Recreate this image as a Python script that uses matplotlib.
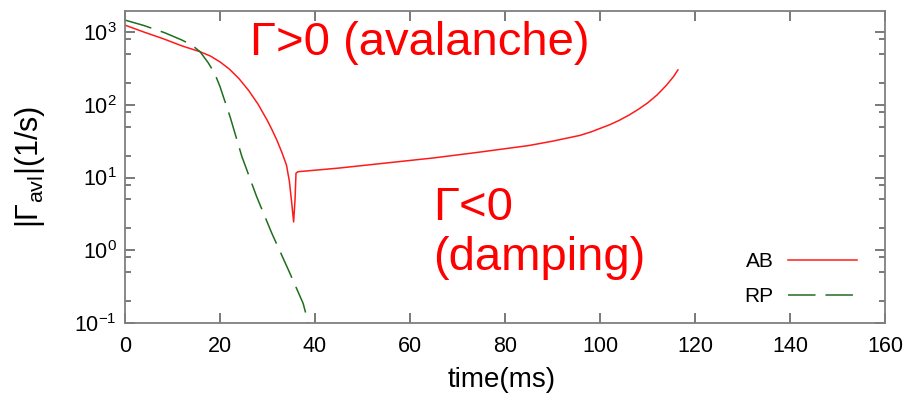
import numpy as np
import matplotlib.pyplot as plt
from matplotlib.ticker import LogLocator, NullFormatter

plt.rcParams['font.family'] = ['Liberation Sans', 'DejaVu Sans']
plt.rcParams['mathtext.fontset'] = 'custom'
plt.rcParams['mathtext.rm'] = 'Liberation Sans'
plt.rcParams['mathtext.it'] = 'Liberation Sans:italic'
plt.rcParams['mathtext.sf'] = 'Liberation Sans'

# AB (solid red): time in ms, log10 of |Gamma|
t_ab = [0, 4, 8, 12, 15.8, 18, 20, 22, 24, 26, 28, 30, 31, 32, 33, 34, 34.6,
        35.1, 35.5, 35.8, 36.0, 36.4, 45, 55, 65, 74.7, 85, 90, 95.8, 98, 100, 102,
        104, 106, 108, 110, 112, 114, 115.5, 116.4]
log_ab = [3.096, 3.0, 2.91, 2.81, 2.73, 2.67, 2.59, 2.49, 2.36, 2.20, 2.01, 1.78,
          1.65, 1.51, 1.35, 1.17, 0.95, 0.65, 0.39, 0.7, 1.06, 1.08, 1.13, 1.20,
          1.27, 1.35, 1.44, 1.50, 1.58, 1.625, 1.675, 1.725, 1.785, 1.855, 1.935,
          2.025, 2.135, 2.27, 2.39, 2.48]
# RP (dashed green)
t_rp = [0, 4, 8.4, 12, 14.1, 15.8, 17.5, 18.9, 20.0, 22.1, 24.6, 27.7, 30.9,
        34.4, 37.5, 38.6]
log_rp = [3.165, 3.09, 2.99, 2.89, 2.82, 2.73, 2.58, 2.43, 2.25, 1.84, 1.29,
          0.74, 0.235, -0.27, -0.73, -1.0]

x_ticks = [0, 20, 40, 60, 80, 100, 120, 140, 160]

W, H = 914, 393
fig = plt.figure(figsize=(W / 100, H / 100), dpi=100)
ax = fig.add_axes([125 / W, 1 - 323 / H, 760 / W, 312 / H])

ax.plot(t_ab, 10 ** np.array(log_ab), color='#ff1a1a', lw=1.1, label='AB')
ax.plot(t_rp, 10 ** np.array(log_rp), color='#1e6e1e', lw=1.1,
        dashes=(18, 6.5), label='RP')

ax.set_yscale('log')
ax.set_xlim(0, 160)
ax.set_ylim(0.1, 1950)
ax.set_xticks(x_ticks)
ax.yaxis.set_major_locator(LogLocator(base=10, numticks=10))
ax.yaxis.set_minor_locator(LogLocator(base=10, subs=[2, 5, 8], numticks=10))
ax.yaxis.set_minor_formatter(NullFormatter())

for s in ax.spines.values():
    s.set_color('#7f7f7f')
    s.set_linewidth(1.3)
ax.tick_params(which='both', direction='in', top=True, right=True,
               color='#555555', labelsize=15.5)
ax.tick_params(which='major', length=7, width=1.1)
ax.tick_params(which='minor', length=4, width=1.1)
ax.tick_params(axis='x', pad=9)
ax.tick_params(axis='y', pad=6)

leg = ax.legend(loc='lower right', bbox_to_anchor=(0.963, 0.055), frameon=False,
                markerfirst=False, fontsize=15, handlelength=3.3,
                handletextpad=0.7, labelspacing=0.75, borderpad=0,
                borderaxespad=0)

fig.text(30 / W, 1 - 167 / H, r'$|\Gamma_{\mathrm{avl}}|$(1/s)', rotation=90,
         ha='center', va='center', fontsize=22)
fig.text(502 / W, 1 - 380 / H, 'time(ms)', ha='center', va='center', fontsize=20)

red = '#ff0000'
fig.text(250 / W, 1 - 55 / H, 'Γ>0 (avalanche)', color=red, fontsize=34,
         va='baseline')
fig.text(433 / W, 1 - 220 / H, 'Γ<0', color=red, fontsize=34, va='baseline')
fig.text(433 / W, 1 - 270 / H, '(damping)', color=red, fontsize=34, va='baseline')

fig.savefig('out.png', dpi=100)
